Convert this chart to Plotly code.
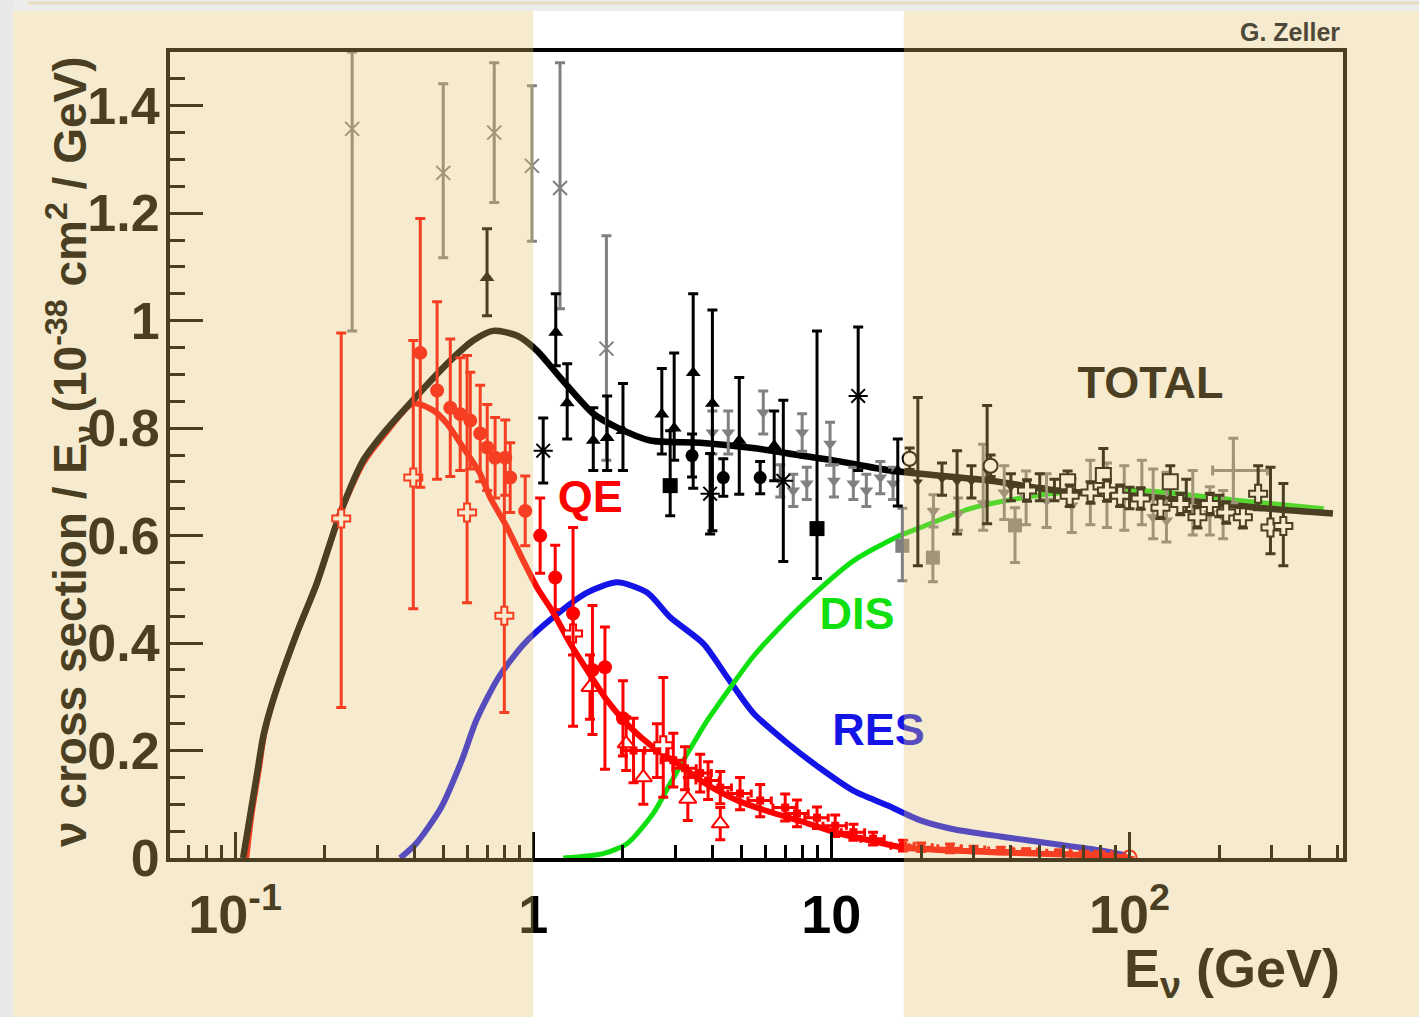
import math
import plotly.graph_objects as go

# ---------------- axis ranges ----------------
X_MIN, X_MAX = 0.0605, 520.0
Y_MIN, Y_MAX = 0.0, 1.5
BAND_LO, BAND_HI = 1.0, 17.5          # white highlighted energy band (GeV)

x_tickvals = [0.1, 1, 10, 100]
x_ticktext = ["10<sup>-1</sup>", "1", "10", "10<sup>2</sup>"]
x_minor_vals = [0.07, 0.08, 0.09, 0.2, 0.3, 0.4, 0.5, 0.6, 0.7, 0.8, 0.9,
                2, 3, 4, 5, 6, 7, 8, 9, 20, 30, 40, 50, 60, 70, 80, 90,
                200, 300, 400, 500]

# ---------------- model curves ----------------
total_x = [0.1064, 0.1124, 0.119, 0.1245, 0.134, 0.161, 0.188, 0.225, 0.269, 0.314,
           0.386, 0.5145, 0.629, 0.734, 0.884, 1.031, 1.232, 1.589, 1.914, 2.47,
           3.635, 5.645, 7.87, 10.16, 15.78, 34.2, 57.0, 123, 268, 481]
total_y = [0.0, 0.08, 0.163, 0.228, 0.293, 0.418, 0.511, 0.641, 0.74, 0.79,
           0.846, 0.920, 0.963, 0.981, 0.972, 0.944, 0.894, 0.827, 0.801, 0.777,
           0.773, 0.762, 0.749, 0.740, 0.721, 0.702, 0.684, 0.671, 0.652, 0.641]

qe_x = [0.109, 0.1135, 0.12, 0.125, 0.134, 0.161, 0.188, 0.225, 0.269, 0.314,
        0.3957, 0.4618, 0.5145, 0.582, 0.6641, 0.7172, 0.818, 0.926, 1.031, 1.167,
        1.331, 1.518, 1.771, 2.116, 2.527, 3.042, 3.72, 4.84, 6.24, 8.05,
        10.47, 13.52, 17.44, 36.9, 79.9, 100.8]
qe_y = [0.0, 0.08, 0.163, 0.228, 0.293, 0.418, 0.511, 0.641, 0.735, 0.785,
        0.846, 0.833, 0.808, 0.764, 0.715, 0.671, 0.615, 0.553, 0.503, 0.457,
        0.399, 0.349, 0.293, 0.243, 0.206, 0.176, 0.141, 0.107, 0.0856, 0.067,
        0.0465, 0.0326, 0.0195, 0.0102, 0.0047, 0.001]

res_x = [0.358, 0.405, 0.491, 0.578, 0.644, 0.763, 0.926, 1.167, 1.516, 1.914,
         2.41, 2.88, 3.72, 4.48, 5.47, 7.11, 9.17, 11.8, 15.4, 19.9,
         25.0, 36.9, 54.4, 80.2, 97.2]
res_y = [0.0, 0.027, 0.094, 0.184, 0.256, 0.335, 0.397, 0.448, 0.494, 0.513,
         0.494, 0.448, 0.399, 0.336, 0.27, 0.214, 0.167, 0.126, 0.098, 0.07,
         0.055, 0.04, 0.027, 0.014, 0.005]

dis_x = [1.261, 1.717, 2.067, 2.527, 2.883, 3.287, 3.836, 4.58, 5.47, 6.74,
         8.70, 11.85, 16.65, 19.9, 29.97, 54.3, 109, 236, 448]
dis_y = [0.0, 0.008, 0.027, 0.083, 0.139, 0.194, 0.256, 0.317, 0.375, 0.43,
         0.49, 0.553, 0.598, 0.615, 0.652, 0.678, 0.684, 0.665, 0.65]

# ---------------- data points ----------------
# red filled circles
rc_x = [0.418, 0.476, 0.527, 0.569, 0.615, 0.664, 0.701, 0.745, 0.806, 0.837,
        0.94, 1.055, 1.185, 1.36, 1.58, 1.74, 2.0]
rc_y = [0.94, 0.87, 0.838, 0.826, 0.814, 0.79, 0.764, 0.745, 0.745, 0.708,
        0.646, 0.60, 0.522, 0.455, 0.35, 0.355, 0.26]
rc_ep = [0.25, 0.165, 0.128, 0.105, 0.09, 0.09, 0.08, 0.075, 0.07, 0.065,
         0.065, 0.07, 0.06, 0.16, 0.12, 0.075, 0.07]
rc_em = [0.25, 0.165, 0.128, 0.105, 0.09, 0.09, 0.08, 0.075, 0.07, 0.065,
         0.065, 0.07, 0.06, 0.21, 0.12, 0.19, 0.07]

# red open crosses
rx_x = [0.227, 0.396, 0.60, 0.80, 1.36, 2.73]
rx_y = [0.632, 0.708, 0.643, 0.451, 0.418, 0.21]
rx_ep = [0.345, 0.255, 0.292, 0.30, 0.04, 0.126]
rx_em = [0.352, 0.244, 0.168, 0.18, 0.04, 0.097]

# red open triangles
rt_x = [1.55, 2.05, 2.34, 3.3, 4.24]
rt_y = [0.318, 0.213, 0.15, 0.11, 0.064]
rt_e = [0.06, 0.05, 0.05, 0.04, 0.03]

# red small points with energy bins
rs_x = [2.17, 2.6, 2.95, 3.23, 3.63, 3.86, 4.24, 4.94, 5.77, 7.0, 7.67, 8.95,
        10.3, 11.86, 13.8, 17.4, 20, 25, 30, 37, 45, 58, 70, 80]
rs_y = [0.20, 0.20, 0.182, 0.167, 0.158, 0.144, 0.131, 0.12, 0.107, 0.094, 0.083,
        0.075, 0.06, 0.048, 0.036, 0.023, 0.02, 0.018, 0.016, 0.014, 0.012, 0.01,
        0.008, 0.007]
rs_e = [0.06, 0.05, 0.05, 0.04, 0.035, 0.035, 0.03, 0.03, 0.03, 0.025, 0.025,
        0.02, 0.02, 0.015, 0.012, 0.01, 0.008, 0.008, 0.006, 0.006, 0.005, 0.005,
        0.004, 0.004]
ro_x = [100.0]
ro_y = [0.001]

# black filled triangles
bt_x = [0.70, 1.19, 1.30, 1.59, 1.77, 2.0, 2.70, 2.97, 3.44, 3.99, 4.91, 6.43, 16.7]
bt_y = [1.08, 0.978, 0.847, 0.777, 0.782, 0.795, 0.826, 0.80, 0.903, 0.846, 0.777,
        0.767, 0.72]
bt_ep = [0.091, 0.072, 0.073, 0.061, 0.078, 0.088, 0.085, 0.14, 0.147, 0.174, 0.117,
         0.065, 0.06]
bt_em = [0.071, 0.062, 0.067, 0.056, 0.061, 0.074, 0.074, 0.06, 0.215, 0.237, 0.10,
         0.065, 0.065]

# black filled circles
bc_x = [3.41, 4.34, 5.77]
bc_y = [0.749, 0.708, 0.708]
bc_e = [0.04, 0.035, 0.03]

# black filled squares
bs_x = [2.88, 8.95]
bs_y = [0.693, 0.613]
bs_ep = [0.102, 0.368]
bs_em = [0.056, 0.093]

# black asterisks
ba_x = [1.08, 3.92, 6.9, 12.3]
ba_y = [0.758, 0.678, 0.702, 0.86]
ba_ep = [0.061, 0.075, 0.15, 0.128]
ba_em = [0.06, 0.075, 0.15, 0.139]

# grey crosses (x)
gx_x = [0.247, 0.499, 0.74, 0.99, 1.23, 1.76]
gx_y = [1.357, 1.275, 1.35, 1.288, 1.247, 0.948]
gx_ep = [0.143, 0.166, 0.13, 0.149, 0.233, 0.21]
gx_em = [0.376, 0.158, 0.13, 0.14, 0.225, 0.208]

# grey inverted triangles (medium energy)
gt_x = [3.99, 4.51, 5.91, 7.98, 6.74, 7.45, 8.27, 9.9, 10.2, 11.85, 13.1, 14.6, 16.1]
gt_y = [0.792, 0.792, 0.829, 0.792, 0.702, 0.684, 0.697, 0.771, 0.702, 0.697,
        0.684, 0.708, 0.697]
gt_e = [0.04, 0.04, 0.04, 0.035, 0.03, 0.03, 0.03, 0.04, 0.03, 0.03, 0.03, 0.03, 0.03]

# grey filled squares
gs_x = [17.3, 21.9, 41.3]
gs_y = [0.581, 0.559, 0.619]
gs_ep = [0.07, 0.09, 0.033]
gs_em = [0.065, 0.045, 0.069]

# grey inverted triangles (high energy)
gh_x = [22, 26.6, 32.3, 38, 45, 52.7, 64, 73.9, 84, 96, 110, 120, 133, 163, 186, 206]
gh_y = [0.646, 0.64, 0.66, 0.68, 0.67, 0.665, 0.656, 0.68, 0.675, 0.67, 0.67,
        0.634, 0.628, 0.641, 0.641, 0.634]
gh_ep = [0.03, 0.03, 0.11, 0.05, 0.05, 0.05, 0.05, 0.06, 0.06, 0.06, 0.07, 0.09,
         0.09, 0.08, 0.05, 0.05]
gh_em = [0.03, 0.03, 0.05, 0.05, 0.05, 0.05, 0.05, 0.06, 0.06, 0.06, 0.05, 0.04,
         0.04, 0.04, 0.04, 0.04]

# grey cross with energy bin
gc_x = [223.0]
gc_y = [0.721]
gc_ex_p = [67.0]
gc_ex_m = [33.0]
gc_e = [0.06]

# high-energy open crosses (black)
hx_x = [45.3, 63, 74, 84, 93, 109, 127, 148, 169, 186, 211, 240, 270, 297, 328]
hx_y = [0.684, 0.674, 0.68, 0.684, 0.674, 0.669, 0.652, 0.659, 0.634, 0.659, 0.643,
        0.634, 0.678, 0.615, 0.618]
hx_ep = [0.02, 0.02, 0.02, 0.02, 0.02, 0.02, 0.02, 0.02, 0.02, 0.02, 0.02, 0.02,
         0.052, 0.112, 0.079]
hx_em = [0.02, 0.02, 0.02, 0.02, 0.02, 0.02, 0.02, 0.02, 0.02, 0.02, 0.02, 0.02,
         0.03, 0.049, 0.074]

# high-energy open squares
hs_x = [62, 81.7, 137]
hs_y = [0.70, 0.712, 0.70]
hs_ep = [0.02, 0.05, 0.03]
hs_em = [0.02, 0.03, 0.03]

# high-energy open circles
hc_x = [18.3, 34.2]
hc_y = [0.743, 0.73]
hc_e = [0.02, 0.02]

# high-energy dark points with long bars
hd_x = [19.5, 33.3, 26.4, 23.5, 29.5, 40, 50, 56, 100, 155, 200]
hd_y = [0.70, 0.72, 0.70, 0.705, 0.70, 0.69, 0.69, 0.685, 0.67, 0.665, 0.655]
hd_ep = [0.157, 0.122, 0.058, 0.03, 0.03, 0.025, 0.025, 0.02, 0.02, 0.04, 0.02]
hd_em = [0.156, 0.098, 0.097, 0.03, 0.03, 0.025, 0.025, 0.02, 0.02, 0.02, 0.02]

# curve labels
label_text = ["QE", "DIS", "RES", "TOTAL"]
label_x = [1.553, 12.2, 14.4, 117.6]
label_y = [0.665, 0.447, 0.232, 0.877]

# ---------------- colours ----------------
RED = "#ff0000"
BLACK = "#000000"
GREY = "#808080"
BLUE = "#1414e6"
GREEN = "#10e010"
BROWN = "#4a3f22"
label_colors = [RED, GREEN, BLUE, BLACK]
FONT = "Liberation Sans, Arial, sans-serif"

fig = go.Figure()


def add_curve(x, y, color, width):
    fig.add_trace(go.Scatter(x=x, y=y, mode="lines",
                             line=dict(color=color, width=width, shape="spline", smoothing=0.7),
                             hoverinfo="skip", showlegend=False))


def add_points(x, y, ep, em, color, symbol, size, fill=None, lw=0, ex=None):
    marker = dict(symbol=symbol, size=size, color=fill if fill else color,
                  line=dict(color=color, width=lw))
    err = dict(type="data", array=ep, arrayminus=em, color=color, thickness=3, width=5,
               visible=True)
    tr = go.Scatter(x=x, y=y, mode="markers", marker=marker, error_y=err,
                    hoverinfo="skip", showlegend=False)
    if ex is not None:
        tr.error_x = ex
    fig.add_trace(tr)


# curves
add_curve(res_x, res_y, BLUE, 6)
add_curve(dis_x, dis_y, GREEN, 5)
add_curve(qe_x, qe_y, RED, 6)
add_curve(total_x, total_y, BLACK, 6.5)

# points
add_points(gx_x, gx_y, gx_ep, gx_em, GREY, "x-thin-open", 14, lw=2)
add_points(gh_x, gh_y, gh_ep, gh_em, GREY, "triangle-down", 12)
add_points(gs_x, gs_y, gs_ep, gs_em, GREY, "square", 14)
add_points(gt_x, gt_y, gt_e, gt_e, GREY, "triangle-down", 12)
add_points(gc_x, gc_y, gc_e, gc_e, GREY, "cross-thin-open", 14, lw=3,
           ex=dict(type="data", array=gc_ex_p, arrayminus=gc_ex_m, color=GREY,
                   thickness=3, width=5))
add_points(hd_x, hd_y, hd_ep, hd_em, BLACK, "triangle-down", 9)
add_points(hc_x, hc_y, hc_e, hc_e, BLACK, "circle", 14, fill="white", lw=2)
add_points(hs_x, hs_y, hs_ep, hs_em, BLACK, "square", 15, fill="white", lw=2)
add_points(hx_x, hx_y, hx_ep, hx_em, BLACK, "cross", 15, fill="white", lw=2)
add_points(bt_x, bt_y, bt_ep, bt_em, BLACK, "triangle-up", 13)
add_points(bc_x, bc_y, bc_e, bc_e, BLACK, "circle", 13)
add_points(bs_x, bs_y, bs_ep, bs_em, BLACK, "square", 15)
add_points(ba_x, ba_y, ba_ep, ba_em, BLACK, "asterisk-open", 16, lw=2)
add_points(rs_x, rs_y, rs_e, rs_e, RED, "square", 8,
           ex=dict(type="percent", value=9, color=RED, thickness=3, width=4))
add_points(rt_x, rt_y, rt_e, rt_e, RED, "triangle-up", 15, fill="white", lw=2)
add_points(rx_x, rx_y, rx_ep, rx_em, RED, "cross", 15, fill="white", lw=2)
add_points(rc_x, rc_y, rc_ep, rc_em, RED, "circle", 14)
add_points(ro_x, ro_y, [0], [0], RED, "circle-open", 14, lw=2)

# curve labels (inside the plot so the tint overlay applies)
fig.add_trace(go.Scatter(
    x=label_x, y=label_y, mode="text",
    text=["<b>%s</b>" % t for t in label_text],
    textfont=dict(family=FONT, size=45, color=label_colors),
    textposition="middle center", hoverinfo="skip", showlegend=False))

# ---------------- layout ----------------
xr = [math.log10(X_MIN), math.log10(X_MAX)]


def xfrac(v):
    return (math.log10(v) - xr[0]) / (xr[1] - xr[0])


L, R, T, B = 170, 76, 52, 159
W, H = 1419, 1017
pw, ph = W - L - R, H - T - B


def px_to_paper_y(py):
    return (H - B - py) / ph


def px_to_paper_x(px):
    return (px - L) / pw


panel_top = px_to_paper_y(11)
TINT = "rgba(228,194,105,0.325)"

shapes = [
    dict(type="rect", xref="paper", yref="paper", x0=-1, x1=xfrac(BAND_LO), y0=-1, y1=panel_top,
         fillcolor=TINT, line=dict(width=0), layer="above"),
    dict(type="rect", xref="paper", yref="paper", x0=xfrac(BAND_HI), x1=2, y0=-1, y1=panel_top,
         fillcolor=TINT, line=dict(width=0), layer="above"),
    dict(type="rect", xref="paper", yref="paper", x0=-1, x1=2, y0=panel_top, y1=2,
         fillcolor="#ececeb", line=dict(width=0), layer="above"),
    dict(type="rect", xref="paper", yref="paper", x0=-1, x1=px_to_paper_x(13), y0=-1, y1=2,
         fillcolor="#e8e8e6", line=dict(width=0), layer="above"),
    dict(type="line", xref="paper", yref="paper", x0=px_to_paper_x(28), x1=2,
         y0=px_to_paper_y(3), y1=px_to_paper_y(3), line=dict(color="#e6dcc0", width=3),
         layer="above"),
]

annotations = [
    dict(text="<b>ν cross section / E<sub>ν</sub> (10<sup>-38</sup> cm<sup>2</sup> / GeV)</b>",
         xref="paper", yref="paper", x=px_to_paper_x(70), y=px_to_paper_y(452),
         textangle=-90, xanchor="center", yanchor="middle", showarrow=False,
         font=dict(family=FONT, size=46, color=BROWN)),
    dict(text="<b>E<sub>ν</sub> (GeV)</b>", xref="paper", yref="paper",
         x=px_to_paper_x(1342), y=px_to_paper_y(972), xanchor="right", yanchor="middle",
         showarrow=False, font=dict(family=FONT, size=54, color=BROWN)),
    dict(text="<b>G. Zeller</b>", xref="paper", yref="paper",
         x=px_to_paper_x(1342), y=px_to_paper_y(32), xanchor="right", yanchor="middle",
         showarrow=False, font=dict(family=FONT, size=25, color="#4d4838")),
]

fig.update_layout(
    width=W, height=H,
    margin=dict(l=L, r=R, t=T, b=B, pad=0),
    paper_bgcolor="white", plot_bgcolor="white",
    showlegend=False,
    shapes=shapes, annotations=annotations,
    xaxis=dict(type="log", range=xr, showgrid=False, zeroline=False,
               showline=True, linecolor=BLACK, linewidth=4, mirror=True,
               tickmode="array", tickvals=x_tickvals, ticktext=x_ticktext,
               ticks="inside", ticklen=26, tickwidth=3, tickcolor=BLACK,
               ticklabelstandoff=6,
               tickfont=dict(family=FONT, size=54, color=BLACK, weight="bold"),
               minor=dict(tickmode="array", tickvals=x_minor_vals, ticks="inside",
                          ticklen=13, tickwidth=3, tickcolor=BLACK, showgrid=False)),
    yaxis=dict(range=[Y_MIN, Y_MAX], showgrid=False, zeroline=False,
               showline=True, linecolor=BLACK, linewidth=4, mirror=True,
               dtick=0.2, tick0=0, ticks="inside", ticklen=33, tickwidth=3,
               tickcolor=BLACK, ticklabelstandoff=-4,
               tickfont=dict(family=FONT, size=52, color=BLACK, weight="bold"),
               minor=dict(dtick=0.05, tick0=0, ticks="inside", ticklen=15, tickwidth=3,
                          tickcolor=BLACK, showgrid=False)),
)

fig.write_html("out.html")
